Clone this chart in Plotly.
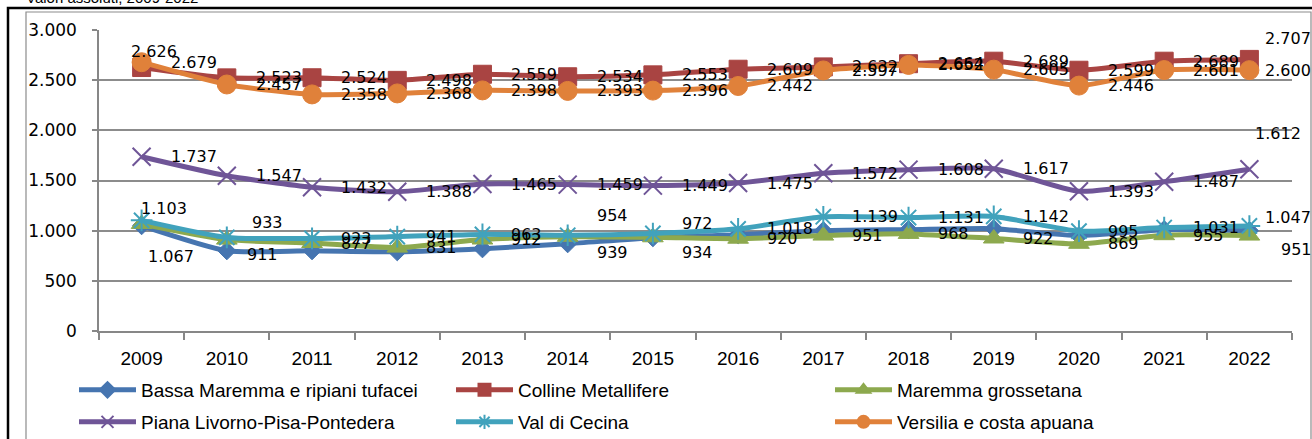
import plotly.graph_objects as go

YEARS = list(range(2009, 2023))

BASSA = [1050, 800, 800, 790, 820, 870, 930, 960, 1000, 1010, 1020, 950, 1010, 1000]
COLLINE = [2626, 2523, 2524, 2498, 2559, 2534, 2553, 2609, 2632, 2664, 2689, 2599, 2689, 2707]
MAREMMA = [1067, 911, 877, 831, 912, 939, 934, 920, 951, 968, 922, 869, 955, 951]
PIANA = [1737, 1547, 1432, 1388, 1465, 1459, 1449, 1475, 1572, 1608, 1617, 1393, 1487, 1612]
CECINA = [1103, 933, 923, 941, 963, 954, 972, 1018, 1139, 1131, 1142, 995, 1031, 1047]
VERSILIA = [2679, 2457, 2358, 2368, 2398, 2393, 2396, 2442, 2597, 2652, 2605, 2446, 2601, 2600]

Y_TICKS = [0, 500, 1000, 1500, 2000, 2500, 3000]

# plot area in pixels
PL, PR, PT, PB = 99, 1292, 30, 331


def fx(px):
    return (px - PL) / (PR - PL)


def fy(py):
    return (PB - py) / (PB - PT)


def fmt(v):
    return f"{v:,}".replace(",", ".")


series = [
    # name, values, color, symbol, size, has data labels
    ("Bassa Maremma e ripiani tufacei", BASSA, "#4675B0", "diamond", 14, False),
    ("Colline Metallifere", COLLINE, "#A94442", "square", 18, True),
    ("Maremma grossetana", MAREMMA, "#8DA94E", "triangle-up", 18, True),
    ("Piana Livorno-Pisa-Pontedera", PIANA, "#6F5597", "x-thin-open", 18, True),
    ("Val di Cecina", CECINA, "#41A2BC", "asterisk-open", 18, True),
    ("Versilia e costa apuana", VERSILIA, "#E0813A", "circle", 19, True),
]

# label offsets (dx, dy in px from marker centre) where they differ from the default
DEFAULT_DX = 27
LABEL_OFFSETS = {
    "Colline Metallifere": {0: (-13, -16), 13: (14, -21)},
    "Versilia e costa apuana": {13: (14, 0)},
    "Piana Livorno-Pisa-Pontedera": {13: (4, -36)},
    "Val di Cecina": {0: (-3, -12), 1: (23, -15), 13: (14, -8), 5: (27, -20), 6: (27, -10)},
    "Maremma grossetana": {0: (4, 33), 1: (18, 15), 5: (27, 16), 6: (27, 15), 13: (30, 14)},
}

LEGEND_POS = [(82, 390), (459, 390), (838, 390), (82, 422), (459, 422), (838, 422)]

fig = go.Figure()

for i, (name, vals, color, symbol, size, labelled) in enumerate(series):
    open_sym = symbol.endswith("-open")
    lg = "legend" if i == 0 else f"legend{i + 1}"
    fig.add_trace(go.Scatter(
        x=YEARS, y=vals, name=name, mode="lines+markers",
        line=dict(color=color, width=5, shape="spline", smoothing=0.6),
        marker=dict(symbol=symbol, size=size, color=color,
                    line=dict(color=color, width=2 if open_sym else 1)),
        legend=lg, hoverinfo="x+y+name",
    ))

for name, vals, color, symbol, size, labelled in series:
    if not labelled:
        continue
    offs = LABEL_OFFSETS.get(name, {})
    for j, (yr, v) in enumerate(zip(YEARS, vals)):
        dx, dy = offs.get(j, (DEFAULT_DX, 0))
        fig.add_annotation(
            x=yr, y=v, xref="x", yref="y", text=fmt(v), showarrow=False,
            xanchor="left", yanchor="middle", xshift=dx, yshift=-dy,
            font=dict(family="DejaVu Sans", size=16, color="#000000"),
        )

# cut-off subtitle at the very top
fig.add_annotation(
    x=fx(24), y=fy(-2), xref="paper", yref="paper", text="Valori assoluti, 2009-2022",
    showarrow=False, xanchor="left", yanchor="middle",
    font=dict(family="Liberation Sans", size=15, color="#000000"),
)

legend_common = dict(
    orientation="h", xanchor="left", yanchor="middle", bgcolor="rgba(0,0,0,0)",
    font=dict(family="Liberation Sans", size=19, color="#000000"),
    itemwidth=57, itemsizing="constant", borderwidth=0,
)
legends = {}
for i, (lx, ly) in enumerate(LEGEND_POS):
    key = "legend" if i == 0 else f"legend{i + 1}"
    legends[key] = dict(legend_common, x=fx(lx - 8), y=fy(ly))

fig.update_layout(
    width=1312, height=439,
    margin=dict(l=PL, r=1312 - PR, t=PT, b=439 - PB, autoexpand=False),
    paper_bgcolor="white", plot_bgcolor="white",
    separators=",.",
    showlegend=True,
    shapes=[
        dict(type="rect", xref="paper", yref="paper",
             x0=fx(8), x1=fx(1330), y0=fy(460), y1=fy(8),
             line=dict(color="#000000", width=2.5)),
        dict(type="rect", xref="paper", yref="paper",
             x0=fx(26), x1=fx(1311), y0=fy(460), y1=fy(12),
             line=dict(color="#8C8C8C", width=1.2)),
    ],
    **legends,
)

fig.update_xaxes(
    range=[YEARS[0] - 0.5, YEARS[-1] + 0.5], tickvals=YEARS, ticks="",
    showgrid=False, showline=True, linecolor="#878787", linewidth=1.5, zeroline=False,
    tickfont=dict(family="Liberation Sans", size=19, color="#000000"),
    ticklabelstandoff=9,
    minor=dict(tickvals=[y - 0.5 for y in YEARS] + [YEARS[-1] + 0.5],
               ticks="outside", ticklen=7, tickcolor="#878787", tickwidth=1.5,
               showgrid=False),
)
fig.update_yaxes(
    range=[0, 3000], tickvals=Y_TICKS, tickformat=",d",
    showgrid=True, gridcolor="#8C8C8C", gridwidth=1.5,
    showline=True, linecolor="#878787", linewidth=1.5,
    ticks="outside", ticklen=5, tickcolor="#878787", tickwidth=1.5,
    tickfont=dict(family="DejaVu Sans", size=17, color="#000000"),
    ticklabelstandoff=12, zeroline=False,
)

fig.write_html("out.html", config={"displayModeBar": False},
               post_script="document.body.style.margin='0';")
